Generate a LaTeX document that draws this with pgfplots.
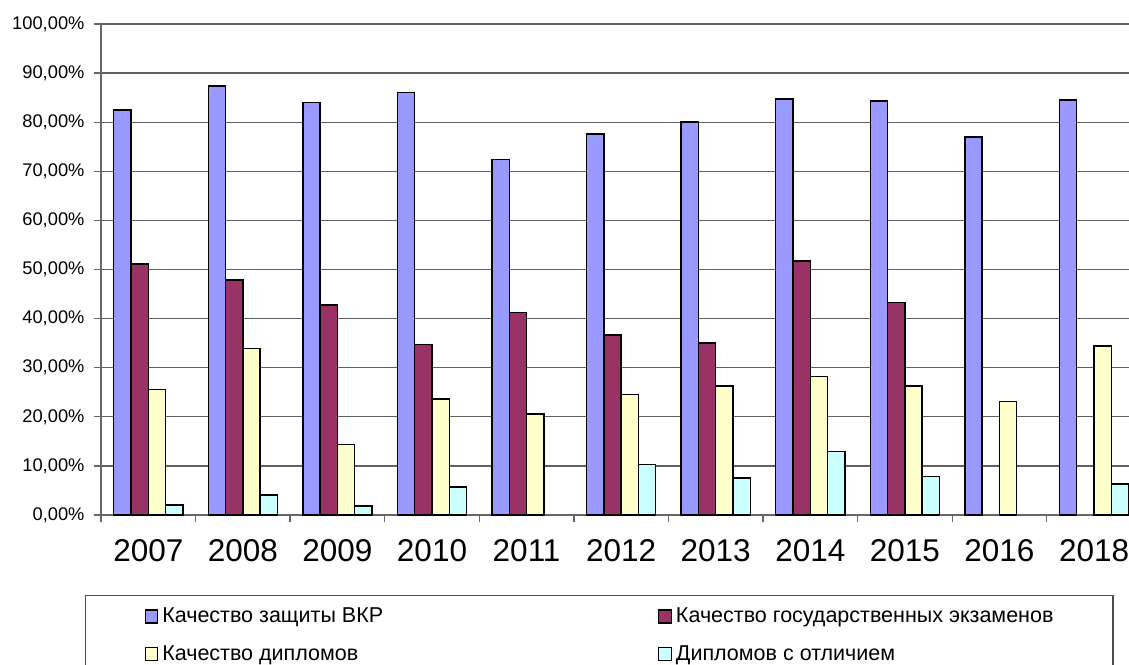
\documentclass[border=0pt]{standalone}
\usepackage{pgfplots}
\pgfplotsset{compat=1.18}
\usepackage{fontspec}
\setmainfont{Liberation Sans}
\definecolor{cA}{HTML}{9999FF}
\definecolor{cB}{HTML}{993366}
\definecolor{cC}{HTML}{FFFFCC}
\definecolor{cD}{HTML}{CCFFFF}
\begin{document}
\begin{tikzpicture}
\begin{axis}[
  at={(0,0)}, anchor=south west,
  scale only axis, width=1040.3pt, height=491pt,
  xmin=-0.5, xmax=10.5, ymin=0, ymax=100,
  ybar=0pt, bar width=17.3pt,
  axis lines=left,
  axis line style={-, draw=black!60, line width=1.3pt},
  every outer x axis line/.append style={-},
  every outer y axis line/.append style={-},
  ymajorgrids, grid style={draw=black!62, line width=1.3pt},
  tick align=outside, major tick length=7pt,
  tick style={draw=black!60, line width=1.3pt},
  ytick={0,10,...,100},
  yticklabels={{0,00\%},{10,00\%},{20,00\%},{30,00\%},{40,00\%},{50,00\%},{60,00\%},{70,00\%},{80,00\%},{90,00\%},{100,00\%}},
  yticklabel style={font=\fontsize{18.3}{21}\selectfont, xshift=-6pt},
  xtick={-0.5,0.5,...,10.5},
  xticklabels={2007,2008,2009,2010,2011,2012,2013,2014,2015,2016,2018,{}},
  xticklabel style={font=\fontsize{31.5}{36}\selectfont, xshift=47.3pt, yshift=-14pt},
  legend columns=2,
  legend image code/.code={\draw[#1, draw=black, line width=1.2pt] (0pt,-5.5pt) rectangle (12.5pt,7.5pt);},
  legend style={
    at={(-0.01538,-0.16293)}, anchor=north west,
    draw=black!70, line width=1.2pt,
    inner xsep=59pt, inner ysep=11.3pt,
    font=\fontsize{21.5}{26}\selectfont,
    row sep=16.7pt,
    nodes={inner sep=0pt, text height=16pt, text depth=5pt},
    /tikz/every odd column/.append style={column sep=4pt},
    /tikz/every even column/.append style={column sep=0pt},
  },
]
\addplot[fill=cA, draw=black, line width=1.4pt] coordinates {(0,82.5)(1,87.4)(2,84.0)(3,86.1)(4,72.4)(5,77.6)(6,80.0)(7,84.7)(8,84.3)(9,77.0)(10,84.5)};
\addplot[fill=cB, draw=black, line width=1.4pt] coordinates {(0,51.1)(1,47.9)(2,42.8)(3,34.7)(4,41.3)(5,36.7)(6,35.0)(7,51.7)(8,43.3)};
\addplot[fill=cC, draw=black, line width=1.4pt] coordinates {(0,25.5)(1,33.9)(2,14.3)(3,23.6)(4,20.6)(5,24.5)(6,26.3)(7,28.2)(8,26.3)(9,23.1)(10,34.4)};
\addplot[fill=cD, draw=black, line width=1.4pt] coordinates {(0,2.0)(1,4.1)(2,1.8)(3,5.7)(5,10.3)(6,7.5)(7,12.9)(8,7.9)(10,6.3)};
\legend{\makebox[496pt][l]{Качество защиты ВКР},\makebox[378pt][l]{Качество государственных экзаменов},\makebox[496pt][l]{Качество дипломов},\makebox[378pt][l]{Дипломов с отличием}}
\coordinate (O) at (rel axis cs:0,0);
\end{axis}
\pgfresetboundingbox
\path[use as bounding box] ([xshift=-101pt,yshift=-149pt]O) rectangle ([xshift=1028pt,yshift=515pt]O);
\end{tikzpicture}
\end{document}
